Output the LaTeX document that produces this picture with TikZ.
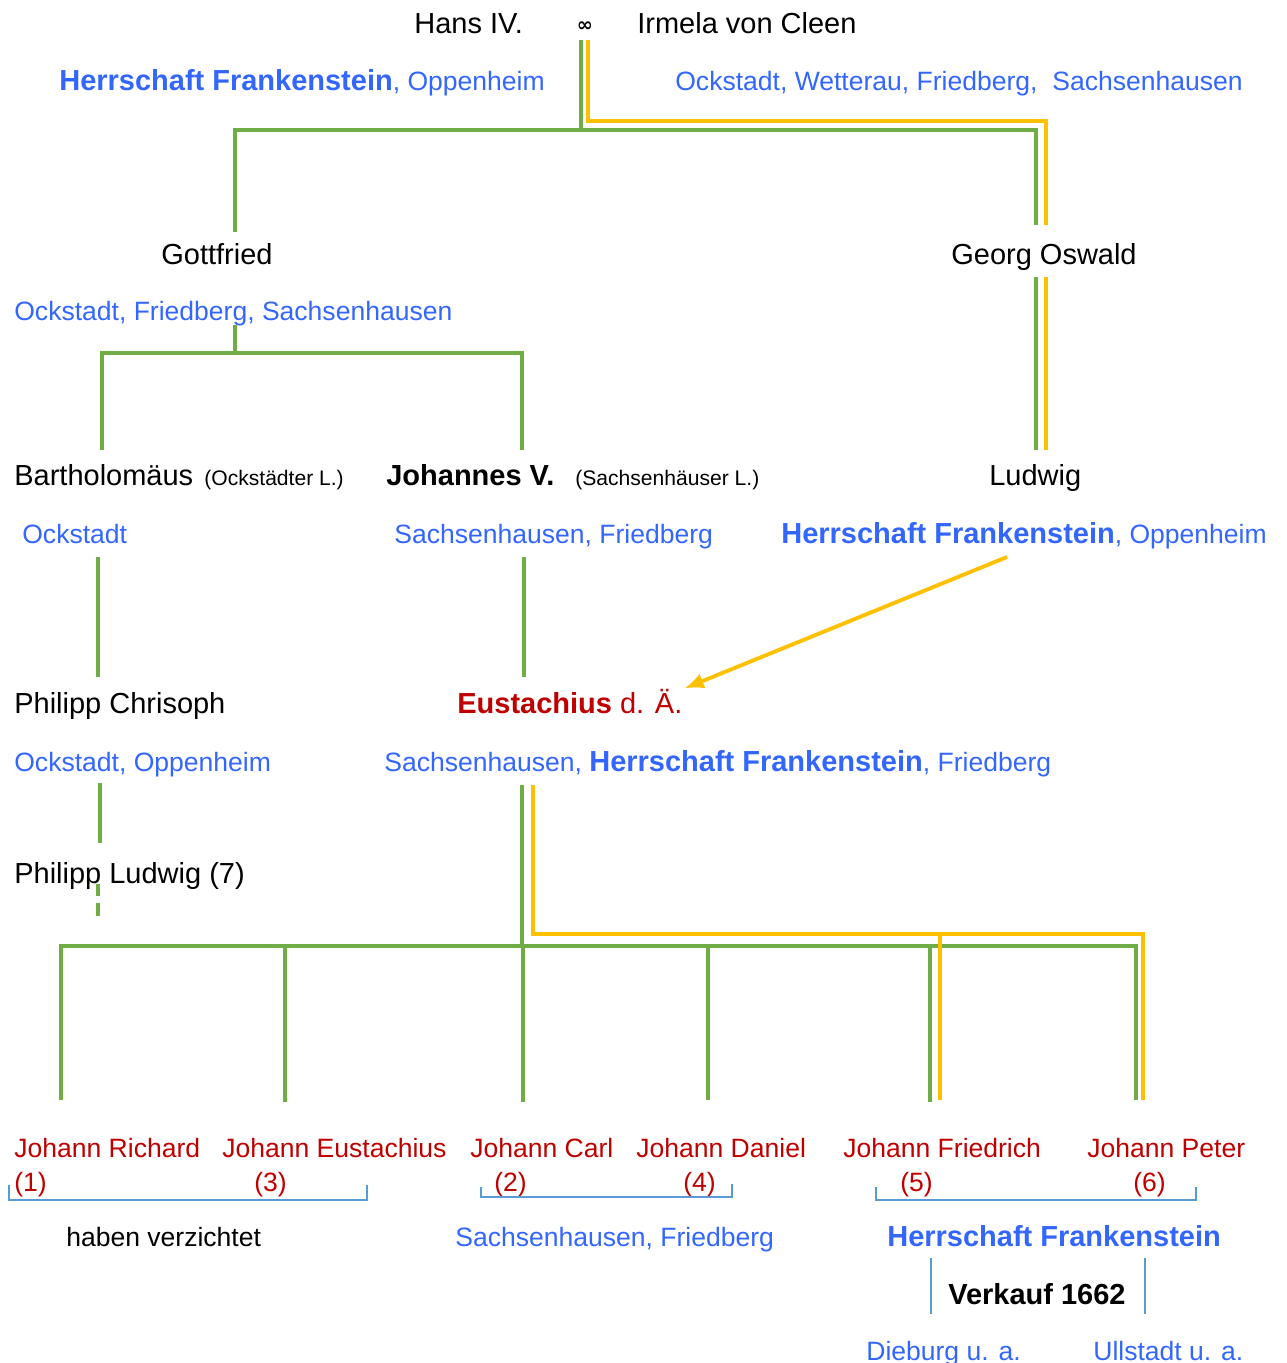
\documentclass[tikz,border=0pt]{standalone}
\usepackage{fontspec}
\setmainfont{Liberation Sans}
\newfontfamily\symbolfont{DejaVu Sans}
\usepackage{tikz}
\usetikzlibrary{arrows,arrows.meta,positioning}
\definecolor{linegreen}{HTML}{70AD47}
\definecolor{lineyellow}{HTML}{FFC000}
\definecolor{placeblue}{HTML}{3366FF}
\definecolor{childred}{HTML}{C00000}
\definecolor{bracketblue}{HTML}{5B9BD5}
\newcommand{\bigsize}{\fontsize{16.5}{19}\selectfont}
\newcommand{\herrschaft}{{\bigsize\bfseries Herrschaft Frankenstein}}

\begin{document}
\begin{tikzpicture}
                [
                    x=0.02cm, y=-0.02cm,
                    namenode/.style={anchor=base west, inner sep=0pt, font=\bigsize},
                    smallnode/.style={anchor=base west, inner sep=0pt, font=\fontsize{12}{14}\selectfont},
                    placenode/.style={anchor=base west, inner sep=0pt, text=placeblue, font=\fontsize{15.1}{18}\selectfont},
                    childnode/.style={anchor=base west, inner sep=0pt, text=childred, font=\fontsize{15.1}{18}\selectfont},
                    greenline/.style={draw=linegreen, line width=2.2pt},
                    yellowline/.style={draw=lineyellow, line width=2.2pt},
                    bracketline/.style={draw=bracketblue, line width=1.5pt},
                ]
                \useasboundingbox (0,0) rectangle (1286,1363);

                \node [namenode] (hans) at (414,33) {Hans IV.};
                \node [inner sep=0pt, anchor=base, font=\symbolfont\bfseries\fontsize{11}{12}\selectfont] (marriage) at (585,31) {∞};
                \node [namenode] (irmela) at (637,33) {Irmela von Cleen};
                \node [placenode] (hansplaces) at (59,90) {\herrschaft, Oppenheim};
                \node [placenode] (irmelaplaces) at (675,90) {Ockstadt, Wetterau, Friedberg,\ \ Sachsenhausen};

                \node [namenode] (gottfried) at (161,264) {Gottfried};
                \node [namenode] (georg) at (951,264) {Georg Oswald};
                \node [placenode] (gottfriedplaces) at (14,320) {Ockstadt, Friedberg, Sachsenhausen};

                \node [namenode] (bartholomaeus) at (14,485) {Bartholomäus};
                \node [smallnode] (ockline) at (204,485) {(Ockstädter L.)};
                \node [namenode, font=\bigsize\bfseries] (johannes) at (386,485) {Johannes V.};
                \node [smallnode] (sachsline) at (575,485) {(Sachsenhäuser L.)};
                \node [namenode] (ludwig) at (989,485) {Ludwig};
                \node [placenode] (bartholomaeusplaces) at (22,543) {Ockstadt};
                \node [placenode] (johannesplaces) at (394,543) {Sachsenhausen, Friedberg};
                \node [placenode] (ludwigplaces) at (781,543) {\herrschaft, Oppenheim};

                \node [namenode] (philippc) at (14,713) {Philipp Chrisoph};
                \node [namenode, text=childred] (eustachius) at (457,713) {\textbf{Eustachius} d. Ä.};
                \node [placenode] (philippcplaces) at (14,771) {Ockstadt, Oppenheim};
                \node [placenode] (eustachiusplaces) at (384,771) {Sachsenhausen, \herrschaft, Friedberg};
                \node [namenode] (philippl) at (14,883) {Philipp Ludwig (7)};

                \node [childnode] (richard) at (14,1157) {Johann Richard};
                \node [childnode] (eustachiusj) at (222,1157) {Johann Eustachius};
                \node [childnode] (carl) at (470,1157) {Johann Carl};
                \node [childnode] (daniel) at (636,1157) {Johann Daniel};
                \node [childnode] (friedrich) at (843,1157) {Johann Friedrich};
                \node [childnode] (peter) at (1087,1157) {Johann Peter};
                \node [childnode] (no1) at (14,1191) {(1)};
                \node [childnode] (no3) at (254,1191) {(3)};
                \node [childnode] (no2) at (494,1191) {(2)};
                \node [childnode] (no4) at (683,1191) {(4)};
                \node [childnode] (no5) at (900,1191) {(5)};
                \node [childnode] (no6) at (1133,1191) {(6)};

                \node [placenode, text=black] (verzicht) at (66,1246) {haben verzichtet};
                \node [placenode] (middleplaces) at (455,1246) {Sachsenhausen, Friedberg};
                \node [placenode] (rightplaces) at (887,1246) {\herrschaft};
                \node [namenode, font=\bigsize\bfseries] (verkauf) at (948,1304) {Verkauf 1662};
                \node [placenode] (dieburg) at (866,1360) {Dieburg u. a.};
                \node [placenode] (ullstadt) at (1093,1360) {Ullstadt u. a.};

                % ends of the lines
                \coordinate (coupleG) at (581,40);
                \coordinate (coupleY) at (588,40);
                \coordinate (gottfriedtop) at (235,232);
                \coordinate (georgtopG) at (1036,225);
                \coordinate (georgtopY) at (1046,225);
                \coordinate (georgbotG) at (1036,277);
                \coordinate (georgbotY) at (1046,277);
                \coordinate (ludwigtopG) at (1036,450);
                \coordinate (ludwigtopY) at (1046,450);
                \coordinate (gottfriedbot) at (235,325);
                \coordinate (bartholomaeustop) at (102,450);
                \coordinate (johannestop) at (522,450);
                \coordinate (ockstadtbot) at (98,557);
                \coordinate (philippctop) at (98,677);
                \coordinate (johannesbot) at (524,557);
                \coordinate (eustachiustop) at (524,677);
                \coordinate (arrowstart) at (1007,557);
                \coordinate (philippcbot) at (100,783);
                \coordinate (philippltop) at (100,843);
                \coordinate (philipplbot) at (98,884);
                \coordinate (philipplend) at (98,916);
                \coordinate (eustachiusG) at (522,785);
                \coordinate (eustachiusY) at (533,785);
                \coordinate (richardtop) at (61,1100);
                \coordinate (eustachiusjtop) at (285,1102);
                \coordinate (carltop) at (523,1102);
                \coordinate (danieltop) at (708,1100);
                \coordinate (friedrichtopG) at (930,1102);
                \coordinate (friedrichtopY) at (940,1100);
                \coordinate (petertopG) at (1136,1100);
                \coordinate (petertopY) at (1143,1100);

                \draw[greenline] (coupleG) -- ++(0,90) -| (gottfriedtop);
                \draw[greenline] (coupleG) ++(0,90) -| (georgtopG);
                \draw[yellowline] (coupleY) -- ++(0,81) -| (georgtopY);
                \draw[greenline] (georgbotG) -- (ludwigtopG);
                \draw[yellowline] (georgbotY) -- (ludwigtopY);
                \draw[greenline] (gottfriedbot) -- ++(0,28) -| (bartholomaeustop);
                \draw[greenline] (gottfriedbot) ++(0,28) -| (johannestop);
                \draw[greenline] (ockstadtbot) -- (philippctop);
                \draw[greenline] (johannesbot) -- (eustachiustop);
                \draw[yellowline, -{Latex[length=11pt,width=9pt]}] (arrowstart) -- ([xshift=1pt]eustachius.north east);
                \draw[greenline] (philippcbot) -- (philippltop);
                \draw[greenline, dash pattern=on 7pt off 4pt] (philipplbot) -- (philipplend);

                \draw[greenline] (eustachiusG) -- ++(0,161) coordinate (fork);
                \draw[greenline] (richardtop) |- (fork) -| (petertopG);
                \draw[greenline] (eustachiusjtop) -- (eustachiusjtop |- fork);
                \draw[greenline] (carltop) -- (carltop |- fork);
                \draw[greenline] (danieltop) -- (danieltop |- fork);
                \draw[greenline] (friedrichtopG) -- (friedrichtopG |- fork);
                \draw[yellowline] (eustachiusY) -- ++(0,149) -| (petertopY);
                \draw[yellowline] (friedrichtopY) -- (friedrichtopY |- 0,934);

                \draw[bracketline] (9,1185) |- (367,1200) -- (367,1185);
                \draw[bracketline] (481,1187) |- (732,1197) -- (732,1184);
                \draw[bracketline] (876,1187) |- (1196,1200) -- (1196,1187);
                \draw[bracketline] (931,1258) -- (931,1314);
                \draw[bracketline] (1145,1258) -- (1145,1314);

            \end{tikzpicture}
\end{document}
